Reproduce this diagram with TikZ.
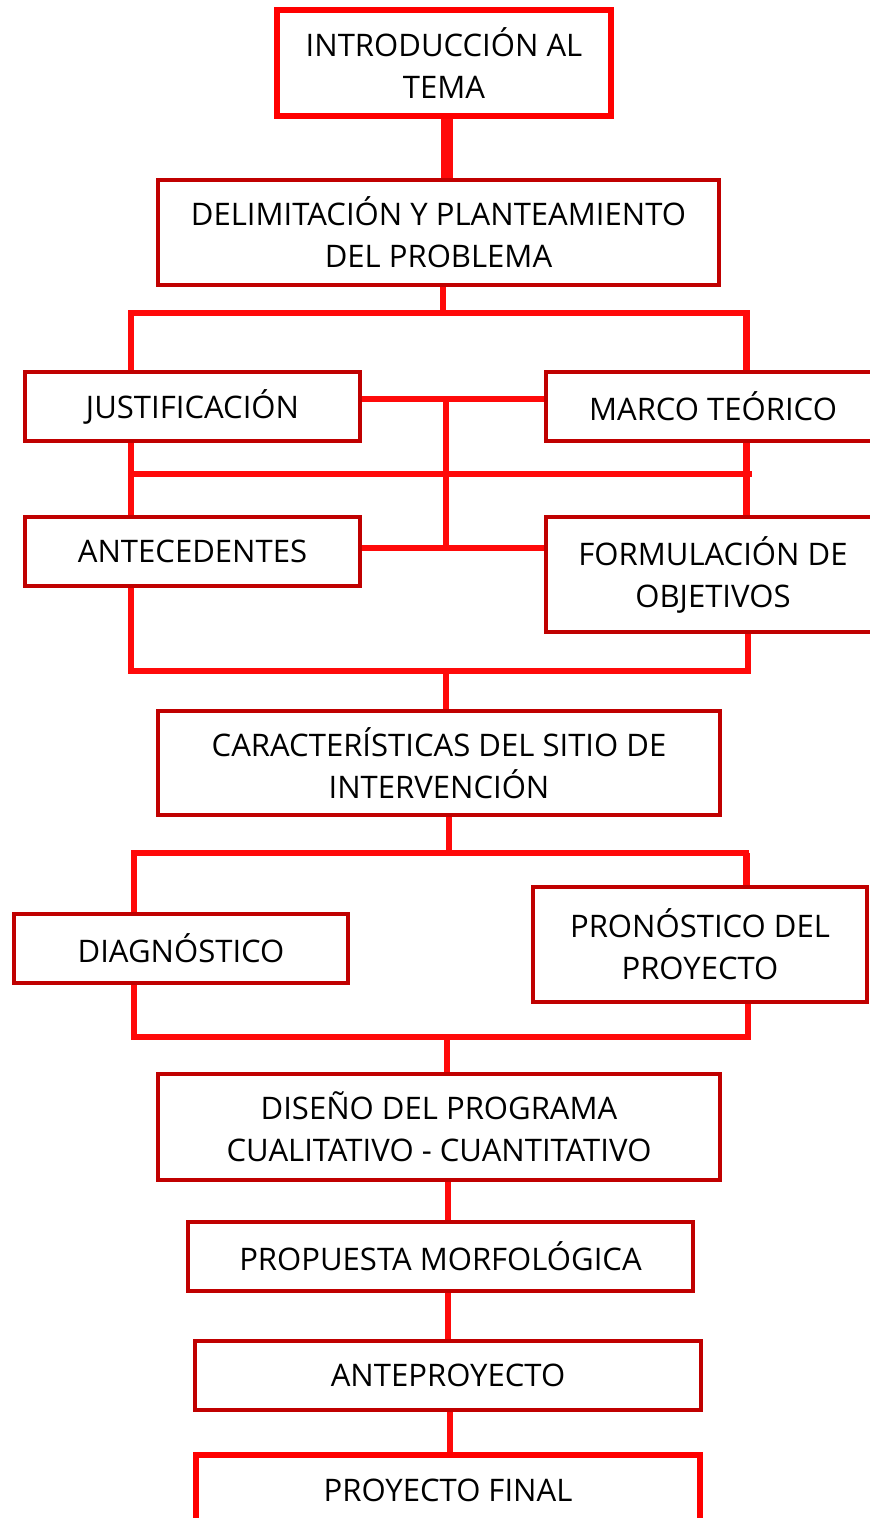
\documentclass[tikz,border=0pt]{standalone}
\usepackage{fontspec}
\setmainfont{Open Sans}
\usetikzlibrary{calc,backgrounds}
\definecolor{connred}{HTML}{FF0A0A}
\definecolor{boxred}{HTML}{C00000}
\definecolor{brightred}{HTML}{FF0000}
\newcommand\pxl[1]{#1*0.75pt}
\tikzset{
  box/.style={draw=boxred, line width=2.4pt, fill=white, inner sep=0pt, outer sep=0pt,
    align=center, text=black, font=\fontsize{23.3}{31.5}\selectfont},
  topbox/.style={box, draw=brightred, line width=4.2pt},
  endbox/.style={box, draw=brightred, line width=5.2pt},
  conn/.style={draw=connred, line width=5pt},
  thinconn/.style={draw=connred, line width=4pt},
  thickconn/.style={draw=connred, line width=9pt},
}
\begin{document}
\begin{tikzpicture}[x=0.75pt,y=-0.75pt]
\useasboundingbox (0,0) rectangle (869,1518);
\node[topbox, minimum width={\pxl{334}}, minimum height={\pxl{106}}] (b1) at (444,63) {INTRODUCCIÓN AL\\TEMA};
\node[box, minimum width={\pxl{561}}, minimum height={\pxl{105}}] (b2) at (438.5,232.5) {DELIMITACIÓN Y PLANTEAMIENTO\\DEL PROBLEMA};
\node[box, minimum width={\pxl{335}}, minimum height={\pxl{69}}] (b3) at (192.5,406.5) {JUSTIFICACIÓN};
\node[box, minimum width={\pxl{334}}, minimum height={\pxl{69}}] (b4) at (713,406.5) {MARCO TEÓRICO};
\node[box, minimum width={\pxl{335}}, minimum height={\pxl{69}}] (b5) at (192.5,551.5) {ANTECEDENTES};
\node[box, minimum width={\pxl{334}}, minimum height={\pxl{115}}] (b6) at (713,574.5) {FORMULACIÓN DE\\OBJETIVOS};
\node[box, minimum width={\pxl{562}}, minimum height={\pxl{104}}] (b7) at (439,763) {CARACTERÍSTICAS DEL SITIO DE\\INTERVENCIÓN};
\node[box, minimum width={\pxl{334}}, minimum height={\pxl{69}}] (b8) at (181,948.5) {DIAGNÓSTICO};
\node[box, minimum width={\pxl{334}}, minimum height={\pxl{115}}] (b9) at (700,944.5) {PRONÓSTICO DEL\\PROYECTO};
\node[box, minimum width={\pxl{562}}, minimum height={\pxl{106}}] (b10) at (439,1127) {DISEÑO DEL PROGRAMA\\CUALITATIVO - CUANTITATIVO};
\node[box, minimum width={\pxl{505}}, minimum height={\pxl{69}}] (b11) at (440.5,1256.5) {PROPUESTA MORFOLÓGICA};
\node[box, minimum width={\pxl{506}}, minimum height={\pxl{69}}] (b12) at (448,1375.5) {ANTEPROYECTO};
\node[endbox, minimum width={\pxl{504}}, minimum height={\pxl{70}}] (b13) at (448,1490) {PROYECTO FINAL};

\coordinate (v1) at (447,0);
\coordinate (v2) at (443,0);
\coordinate (hAL) at (128,313);
\coordinate (hAR) at (750,313);
\coordinate (lx) at (131,0);
\coordinate (rx) at (746.5,0);
\coordinate (rx2) at (748,0);
\coordinate (mx) at (446,0);
\coordinate (jm) at (446,399);
\coordinate (am) at (446,548);
\coordinate (hBL) at (134,474);
\coordinate (hBR) at (752,474);
\coordinate (hCL) at (128,671);
\coordinate (hCR) at (751,671);
\coordinate (cx) at (449,0);
\coordinate (hDL) at (131,853);
\coordinate (hDR) at (749,853);
\coordinate (dlx) at (134,0);
\coordinate (hEL) at (131,1037);
\coordinate (hER) at (751,1037);
\coordinate (ex) at (447,0);
\coordinate (fx) at (448,0);
\coordinate (gx) at (450,0);

\begin{scope}[on background layer]
\draw[thickconn] (b1.south -| v1) -- (b2.north -| v1);
\draw[thinconn] (b2.south -| v2) -- (v2 |- hAL);
\draw[conn] (hAL) -- (hAR);
\draw[conn] (lx |- hAL) -- (lx |- b3.north);
\draw[conn] (rx |- hAR) -- (rx |- b4.north);
\draw[conn] (b3.east |- jm) -- (b4.west |- jm);
\draw[thinconn] (jm) -- (am);
\draw[conn] (b5.east |- am) -- (b6.west |- am);
\draw[conn] (hBL) -- (hBR);
\draw[conn] (lx |- b3.south) -- (lx |- b5.north);
\draw[conn] (rx |- b4.south) -- (rx |- b6.north);
\draw[conn] (lx |- b5.south) -- (lx |- hCL);
\draw[conn] (rx2 |- b6.south) -- (rx2 |- hCR);
\draw[conn] (hCL) -- (hCR);
\draw[conn] (mx |- hCL) -- (mx |- b7.north);
\draw[conn] (b7.south -| cx) -- (cx |- hDL);
\draw[conn] (hDL) -- (hDR);
\draw[conn] (dlx |- hDL) -- (dlx |- b8.north);
\draw[conn] (rx |- hDR) -- (rx |- b9.north);
\draw[conn] (dlx |- b8.south) -- (dlx |- hEL);
\draw[conn] (rx2 |- b9.south) -- (rx2 |- hER);
\draw[conn] (hEL) -- (hER);
\draw[conn] (ex |- hEL) -- (ex |- b10.north);
\draw[conn] (b10.south -| fx) -- (b11.north -| fx);
\draw[conn] (b11.south -| fx) -- (b12.north -| fx);
\draw[conn] (b12.south -| gx) -- (b13.north -| gx);
\end{scope}
\end{tikzpicture}
\end{document}
